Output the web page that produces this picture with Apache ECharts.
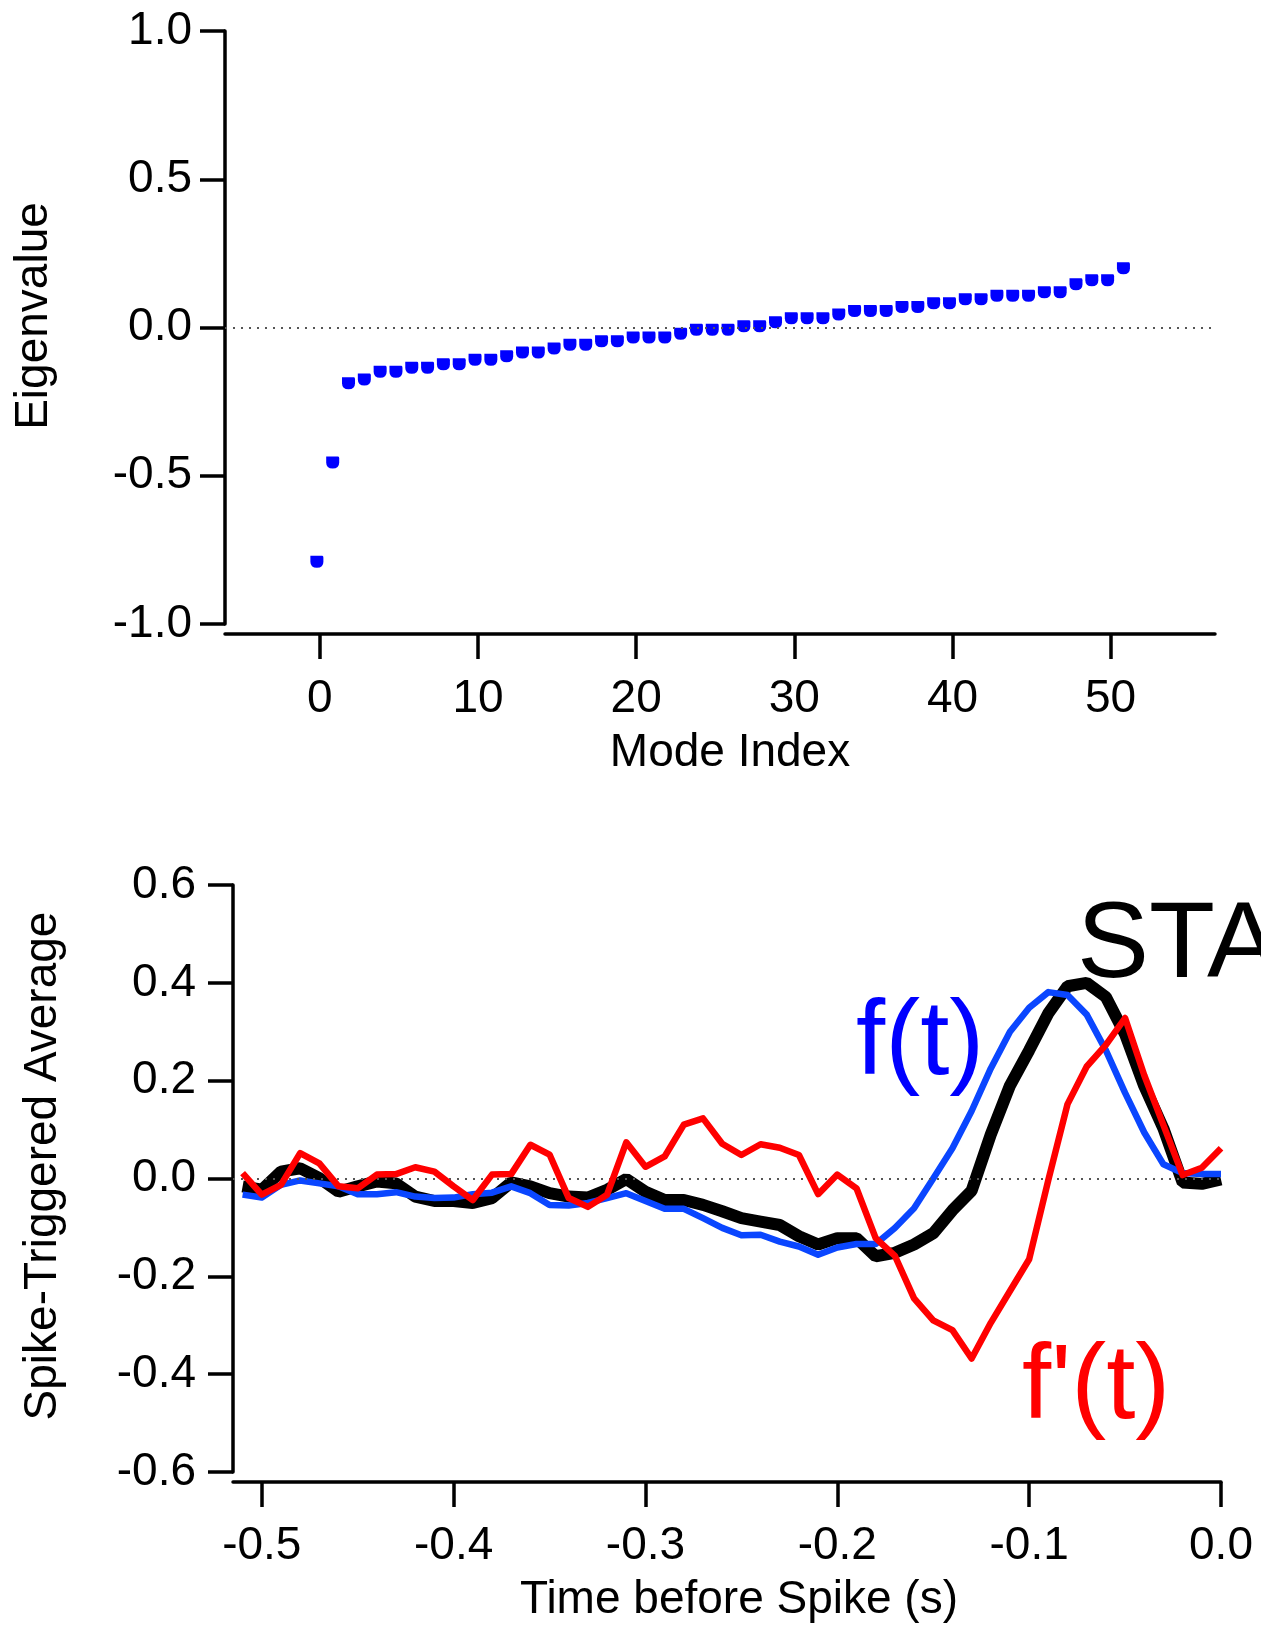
<!DOCTYPE html>
<html>
<head>
<meta charset="utf-8">
<script src="https://cdn.jsdelivr.net/npm/echarts@6/dist/echarts.min.js"></script>
<style>
html,body{margin:0;padding:0;background:#fff;}
#chart{width:1261px;height:1625px;}
</style>
</head>
<body>
<div id="chart"></div>
<script>
// ---- Top panel: eigenvalue spectrum ----
const modeIndex = [0,1,2,3,4,5,6,7,8,9,10,11,12,13,14,15,16,17,18,19,20,21,22,23,24,25,26,27,28,29,30,31,32,33,34,35,36,37,38,39,40,41,42,43,44,45,46,47,48,49,50,51];
const eigenvalues = [-0.790,-0.455,-0.188,-0.175,-0.149,-0.149,-0.136,-0.136,-0.124,-0.124,-0.109,-0.109,-0.097,-0.084,-0.084,-0.071,-0.058,-0.058,-0.046,-0.046,-0.034,-0.034,-0.034,-0.021,-0.008,-0.008,-0.008,0.004,0.004,0.018,0.031,0.031,0.031,0.044,0.056,0.056,0.056,0.069,0.069,0.082,0.082,0.095,0.095,0.107,0.107,0.107,0.119,0.119,0.146,0.159,0.159,0.200];
const modeTicks = [0,10,20,30,40,50];
const eigenTicks = [-1.0,-0.5,0.0,0.5,1.0];

// ---- Bottom panel: spike-triggered average ----
const timeBeforeSpike = [-0.51,-0.50,-0.49,-0.48,-0.47,-0.46,-0.45,-0.44,-0.43,-0.42,-0.41,-0.40,-0.39,-0.38,-0.37,-0.36,-0.35,-0.34,-0.33,-0.32,-0.31,-0.30,-0.29,-0.28,-0.27,-0.26,-0.25,-0.24,-0.23,-0.22,-0.21,-0.20,-0.19,-0.18,-0.17,-0.16,-0.15,-0.14,-0.13,-0.12,-0.11,-0.10,-0.09,-0.08,-0.07,-0.06,-0.05,-0.04,-0.03,-0.02,-0.01,0.00];
const staValues = [-0.016,-0.023,0.014,0.021,0.001,-0.027,-0.016,-0.006,-0.010,-0.037,-0.046,-0.046,-0.050,-0.040,-0.008,-0.016,-0.030,-0.037,-0.039,-0.023,-0.001,-0.027,-0.044,-0.044,-0.054,-0.067,-0.081,-0.088,-0.095,-0.118,-0.135,-0.122,-0.122,-0.159,-0.152,-0.135,-0.112,-0.065,-0.025,0.090,0.190,0.262,0.338,0.393,0.400,0.371,0.295,0.189,0.102,-0.008,-0.011,-0.002];
const fValues = [-0.033,-0.039,-0.013,-0.004,-0.010,-0.016,-0.032,-0.032,-0.028,-0.037,-0.040,-0.039,-0.032,-0.029,-0.016,-0.030,-0.054,-0.055,-0.050,-0.040,-0.030,-0.046,-0.062,-0.062,-0.081,-0.101,-0.116,-0.115,-0.129,-0.139,-0.156,-0.141,-0.134,-0.134,-0.101,-0.061,0.000,0.062,0.138,0.225,0.300,0.349,0.381,0.375,0.335,0.262,0.175,0.094,0.029,0.011,0.009,0.009];
const fPrimeValues = [0.011,-0.033,-0.013,0.052,0.031,-0.016,-0.020,0.008,0.009,0.023,0.014,-0.016,-0.044,0.008,0.009,0.069,0.049,-0.040,-0.058,-0.033,0.074,0.024,0.045,0.110,0.123,0.071,0.048,0.070,0.063,0.048,-0.032,0.008,-0.020,-0.122,-0.158,-0.245,-0.290,-0.310,-0.368,-0.295,-0.230,-0.165,-0.003,0.152,0.229,0.273,0.328,0.211,0.109,0.007,0.022,0.062];
const timeTicks = [-0.5,-0.4,-0.3,-0.2,-0.1,0.0];
const staTicks = [-0.6,-0.4,-0.2,0.0,0.2,0.4,0.6];

const FONT = '"Liberation Sans", Arial, Helvetica, sans-serif';
const pairs = (xs, ys) => xs.map((x, i) => [x, ys[i]]);
const fmt1 = v => (Math.abs(v) < 1e-9 ? 0 : v).toFixed(1);

function axisCommon(ticks, margin, fmt) {
  return {
    axisLine: {show: true, onZero: false, lineStyle: {color: '#000', width: 3.5}},
    axisTick: {show: true, customValues: ticks, length: 25, lineStyle: {color: '#000', width: 3.5}},
    axisLabel: {show: true, customValues: ticks, margin: margin, color: '#000', fontSize: 46, fontFamily: FONT,
                formatter: fmt},
    splitLine: {show: false},
    splitArea: {show: false}
  };
}

const zeroLine = {
  silent: true, symbol: ['none', 'none'], label: {show: false},
  lineStyle: {color: '#555', width: 2, type: [2, 6]},
  emphasis: {disabled: true},
  data: [{yAxis: 0}]
};

const chart = echarts.init(document.getElementById('chart'), null, {renderer: 'canvas'});
chart.setOption({
  animation: false,
  backgroundColor: '#fff',
  grid: [
    {left: 225, top: 31, width: 990, height: 593},
    {left: 233, top: 885, width: 988, height: 587}
  ],
  xAxis: [
    Object.assign({type: 'value', gridIndex: 0, min: -6.0, max: 56.6, position: 'bottom', offset: 10},
      axisCommon(modeTicks, 42, v => String(Math.round(v)))),
    Object.assign({type: 'value', gridIndex: 1, min: -0.515, max: 0.0, position: 'bottom', offset: 10},
      axisCommon(timeTicks, 41, fmt1))
  ],
  yAxis: [
    Object.assign({type: 'value', gridIndex: 0, min: -1.0, max: 1.0, position: 'left'}, axisCommon(eigenTicks, 33, fmt1)),
    Object.assign({type: 'value', gridIndex: 1, min: -0.6, max: 0.6, position: 'left'}, axisCommon(staTicks, 37, fmt1))
  ],
  series: [
    {
      type: 'scatter', xAxisIndex: 0, yAxisIndex: 0,
      data: pairs(modeIndex, eigenvalues),
      symbol: 'path://M0,0 L11,0 Q12,0 12,2 L12,6 Q12,12 6,12 Q0,12 0,6 Z',
      symbolSize: [13, 12],
      symbolOffset: [-3, 0],
      itemStyle: {color: '#0000ff', opacity: 1},
      markLine: zeroLine,
      z: 3
    },
    {
      type: 'line', xAxisIndex: 1, yAxisIndex: 1,
      data: pairs(timeBeforeSpike, staValues),
      showSymbol: false, symbol: 'none',
      lineStyle: {color: '#000', width: 12, cap: 'butt', join: 'bevel'},
      markLine: zeroLine,
      z: 3
    },
    {
      type: 'line', xAxisIndex: 1, yAxisIndex: 1,
      data: pairs(timeBeforeSpike, fValues),
      showSymbol: false, symbol: 'none',
      lineStyle: {color: '#0a46ff', width: 6.5, join: 'round'},
      z: 4
    },
    {
      type: 'line', xAxisIndex: 1, yAxisIndex: 1,
      data: pairs(timeBeforeSpike, fPrimeValues),
      showSymbol: false, symbol: 'none',
      lineStyle: {color: '#ff0000', width: 6.5, join: 'round'},
      z: 5
    }
  ],
  graphic: [
    {type: 'text', x: 34, y: 316, rotation: Math.PI / 2,
     style: {text: 'Eigenvalue', font: '46px ' + FONT, fill: '#000', align: 'center', verticalAlign: 'middle'}},
    {type: 'text', x: 730, y: 753,
     style: {text: 'Mode Index', font: '46px ' + FONT, fill: '#000', align: 'center', verticalAlign: 'middle'}},
    {type: 'text', x: 43, y: 1166, rotation: Math.PI / 2,
     style: {text: 'Spike-Triggered Average', font: '46px ' + FONT, fill: '#000', align: 'center', verticalAlign: 'middle'}},
    {type: 'text', x: 739, y: 1600,
     style: {text: 'Time before Spike (s)', font: '46px ' + FONT, fill: '#000', align: 'center', verticalAlign: 'middle'}},
    {type: 'text', x: 1077, y: 947, z: 10,
     style: {text: 'STA', font: '108px ' + FONT, fill: '#000', align: 'left', verticalAlign: 'middle'}},
    {type: 'text', x: 856, y: 1045, z: 10,
     style: {text: 'f(t)', font: '105px ' + FONT, fill: '#0000ff', align: 'left', verticalAlign: 'middle'}},
    {type: 'text', x: 1022, y: 1389, z: 10,
     style: {text: "f'(t)", font: '105px ' + FONT, fill: '#ff0000', align: 'left', verticalAlign: 'middle'}}
  ]
});
</script>
</body>
</html>
